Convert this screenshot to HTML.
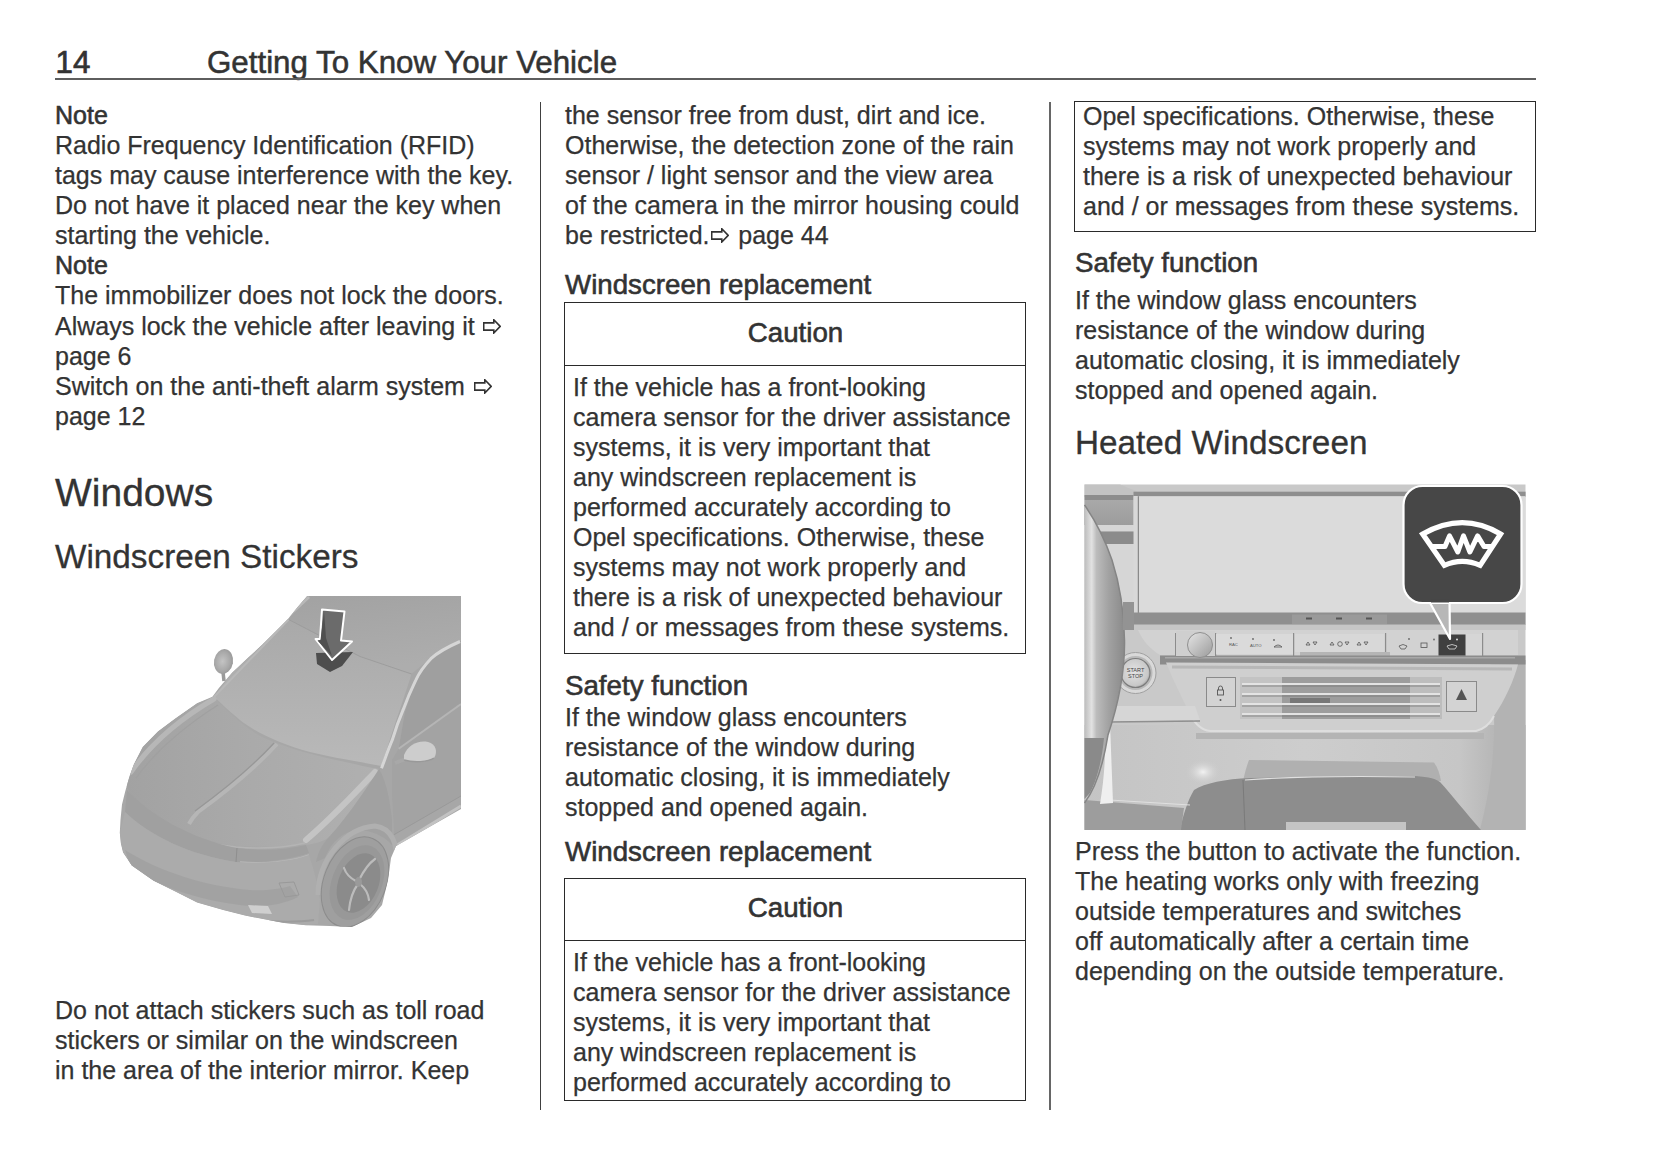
<!DOCTYPE html>
<html><head><meta charset="utf-8">
<style>
html,body{margin:0;padding:0;background:#fff;}
body{width:1653px;height:1165px;position:relative;overflow:hidden;font-family:"Liberation Sans",sans-serif;color:#333;}
.a{position:absolute;white-space:nowrap;}
.p{position:absolute;white-space:nowrap;font-size:25px;line-height:30.08px;-webkit-text-stroke:0.25px #333;}
.m{-webkit-text-stroke:0.6px #333;}
.h3{position:absolute;white-space:nowrap;font-size:27.7px;line-height:32px;-webkit-text-stroke:0.6px #333;}
.box{position:absolute;border:1.4px solid #2a2a2a;box-sizing:border-box;}
.sep{position:absolute;height:1.4px;background:#2a2a2a;}
.vd{position:absolute;width:1.4px;background:#555;}
.ar{display:inline-block;width:18px;height:15px;vertical-align:1px;margin:0 2px 0 1.8px;}
</style></head><body>

<!-- header -->
<div class="a" id="pn" style="left:55.5px;top:45px;font-size:31.3px;line-height:36px;-webkit-text-stroke:0.7px #333;">14</div>
<div class="a" id="ht" style="left:207px;top:45px;font-size:31.3px;line-height:36px;-webkit-text-stroke:0.55px #333;">Getting To Know Your Vehicle</div>
<div class="a" style="left:55px;top:78.1px;width:1481px;height:1.6px;background:#5e5e5e;"></div>

<!-- column dividers -->
<div class="vd" style="left:539.8px;top:102px;height:1008px;background:#404040;width:1.35px;"></div>
<div class="vd" style="left:1049.3px;top:102px;height:1008px;background:#666;width:1.8px;"></div>

<!-- left column -->
<div class="p" style="left:55px;top:99.9px;"><span class="m">Note</span><br>Radio Frequency Identification (RFID)<br>tags may cause interference with the key.<br>Do not have it placed near the key when<br>starting the vehicle.<br><span class="m">Note</span><br>The immobilizer does not lock the doors.<br><span style="position:relative;top:1px;">Always lock the vehicle after leaving it <svg class="ar" viewBox="0 0 18 15"><path d="M0.7 3.9H10.8V0.8L17.2 7.4L10.8 14V11.1H0.7Z" fill="none" stroke="#333" stroke-width="1.6" stroke-linejoin="miter"/></svg></span><br>page 6<br>Switch on the anti-theft alarm system <svg class="ar" viewBox="0 0 18 15"><path d="M0.7 3.9H10.8V0.8L17.2 7.4L10.8 14V11.1H0.7Z" fill="none" stroke="#333" stroke-width="1.6"/></svg><br>page 12</div>

<div class="a" style="left:55px;top:470.6px;font-size:39px;line-height:44px;-webkit-text-stroke:0.3px #333;">Windows</div>
<div class="a" style="left:55px;top:538px;font-size:33.3px;line-height:38px;-webkit-text-stroke:0.3px #333;">Windscreen Stickers</div>

<svg class="a" style="left:110px;top:590px;" width="355" height="345" viewBox="110 590 355 345">
<defs>
<linearGradient id="cg1" x1="0" y1="0" x2="0" y2="1"><stop offset="0" stop-color="#a9a9a9"/><stop offset="1" stop-color="#b9b9b9"/></linearGradient>
<linearGradient id="cg2" x1="0" y1="0" x2="1" y2="0"><stop offset="0" stop-color="#a2a2a2"/><stop offset="0.5" stop-color="#aaaaaa"/><stop offset="1" stop-color="#b0b0b0"/></linearGradient>
<linearGradient id="cg3" x1="0" y1="0" x2="1" y2="1"><stop offset="0" stop-color="#b0b0b0"/><stop offset="1" stop-color="#9a9a9a"/></linearGradient>
<linearGradient id="croof" x1="0" y1="0" x2="0.3" y2="1"><stop offset="0" stop-color="#a2a2a2"/><stop offset="1" stop-color="#adadad"/></linearGradient>
<clipPath id="cs"><path d="M307.1,596 L461,596 L461,809 L396,846 L391,858 L388,880 L382,905 L371,918 L352,927 L330,926 L306,925.3 L284.2,923.1 L245,915.5 L223.2,910 L197.1,902.4 L175.3,891.5 L153.6,880.7 L131.8,865.4 L123.1,852.4 L120.9,843.6 L119.8,832.8 L120.5,819.7 L122,804.4 L125.2,791.4 L129.6,776.1 L134,764 L142.7,747 L157.9,731.6 L175.3,718.5 L197.1,703.2 L212.4,696.7 L218.9,688 L232,672.8 L247.2,658.6 L262.4,644.4 L275.5,631.4 L288.6,618.3 L297.3,607.4 Z"/></clipPath>
<radialGradient id="cm1" cx="0.45" cy="0.5" r="0.65"><stop offset="0" stop-color="#c4c4c4"/><stop offset="0.6" stop-color="#a8a8a8"/><stop offset="1" stop-color="#8e8e8e"/></radialGradient>
</defs>
<!-- body silhouette -->
<path d="M307.1,596 L461,596 L461,809 L396,846 L391,858 L388,880 L382,905 L371,918 L352,927 L330,926 L306,925.3 L284.2,923.1 L245,915.5 L223.2,910 L197.1,902.4 L175.3,891.5 L153.6,880.7 L131.8,865.4 L123.1,852.4 L120.9,843.6 L119.8,832.8 L120.5,819.7 L122,804.4 L125.2,791.4 L129.6,776.1 L134,764 L142.7,747 L157.9,731.6 L175.3,718.5 L197.1,703.2 L212.4,696.7 L218.9,688 L232,672.8 L247.2,658.6 L262.4,644.4 L275.5,631.4 L288.6,618.3 L297.3,607.4 Z" fill="#a7a7a7"/>
<g clip-path="url(#cs)">
<!-- roof -->
<path d="M307.1,596 L461,596 L461,641 L432,657 L411.5,673.7 L360,656.5 L288.6,619 L297.3,607.4 Z" fill="url(#croof)"/>
<!-- roof rail highlight -->
<path d="M309,597 L282,622" stroke="#b8b8b8" stroke-width="3" fill="none"/>
<!-- windshield -->
<path d="M288.6,619.5 L360,656.5 L411.5,674 C405,695 396,720 381.5,766 C350,760 330,757 310,752 C280,744 255,732 240,720 C228,710 220,702 214,697 L232,673 L247.2,658.6 L262.4,644.4 L275.5,631.4 Z" fill="url(#cg1)"/>
<path d="M288.6,619.5 L360,656.5 L411.5,674" stroke="#999" stroke-width="0.8" fill="none"/>
<!-- left A-pillar edge -->
<path d="M214,697 L288.6,619.5" stroke="#b8b8b8" stroke-width="2" fill="none"/>
<!-- side window area right of A pillar -->
<path d="M461,641 L432,657 C420,670 412,690 405,712 L398.7,748.8 L461,704 Z" fill="#9f9f9f"/>
<path d="M461,704 L398.7,748.8 L392,760 L392,795 L394.4,834.7 L461,796 Z" fill="#a3a3a3"/>
<path d="M398.7,748.8 L461,704" stroke="#b5b5b5" stroke-width="2" fill="none"/>
<!-- A-pillar highlight -->
<path d="M460,641.5 C445,648 436,654 430.9,658.7 C424,666 419,673 415.8,680.1 C410,692 406,702 403,710.2 C398,722 395,731 392.2,740.2 C388,750 385,759 381.5,768.2" stroke="#d6d6d6" stroke-width="3" fill="none"/>
<!-- sill highlight -->
<path d="M396.5,845.5 L461,806" stroke="#c2c2c2" stroke-width="3" fill="none"/>
<path d="M394,834.7 L461,796" stroke="#999" stroke-width="1" fill="none"/>
<!-- hood -->
<path d="M214,697 C228,712 245,728 262,737 C285,748 320,757 350,763 C362,766 372,768 379,769 C372,790 352,815 336,832 C326,842 312,845 300,845 C270,847 240,848 220,843 C190,836 160,820 140,805 C132,798 128,790 126,785 L129.6,776.1 L134,764 L142.7,747 L157.9,731.6 L175.3,718.5 L197.1,703.2 Z" fill="url(#cg2)"/>
<!-- hood left edge highlight -->
<path d="M131,772 C150,745 178,720 214,699" stroke="#b7b7b7" stroke-width="5" fill="none" stroke-linecap="round"/>
<path d="M136,778 C155,752 182,728 218,705" stroke="#a0a0a0" stroke-width="1.2" fill="none"/>
<!-- hood crease -->
<path d="M277,744 C255,768 228,790 198,812 C194,816 191,820 189,824" stroke="#b6b6b6" stroke-width="4" fill="none"/>
<path d="M274,743 C252,767 225,789 195,811" stroke="#979797" stroke-width="1.2" fill="none"/>
<!-- right fender highlight -->
<path d="M375,772 C355,793 332,818 306,840" stroke="#c4c4c4" stroke-width="6" fill="none" stroke-linecap="round"/>
<!-- fender/side front -->
<path d="M379,769 C386,780 390,800 392,820 L392,845 C386,838 376,832 362,830 C345,830 332,840 325,858 L316,862 C318,852 322,845 328,838 C345,820 362,795 379,769 Z" fill="#a1a1a1"/>
<!-- hood lip -->
<path d="M132,815 C160,832 200,843 236,847 C262,849 285,848 305,843" stroke="#b4b4b4" stroke-width="1.5" fill="none"/>
<!-- headlight band -->
<path d="M127,790 C150,815 190,838 236,848 C262,851 285,850 306,845 L309,853 C290,860 262,863 236,862 C190,855 150,836 125,812 Z" fill="#a0a0a0"/>
<path d="M237,848 L236,862" stroke="#8e8e8e" stroke-width="1"/>
<path d="M240,862 C262,864 290,862 309,855" stroke="#b8b8b8" stroke-width="1.5" fill="none"/>
<!-- bumper -->
<path d="M125,812 C150,836 190,855 236,862 C262,864 290,862 309,855 C314,870 318,885 320,900 L318,924 L306,925.3 L284.2,923.1 L245,915.5 L223.2,910 L197.1,902.4 L175.3,891.5 L153.6,880.7 L131.8,865.4 L123.1,852.4 L120.9,843.6 L119.8,832.8 Z" fill="#ababab"/>
<!-- lower grille -->
<path d="M125,850 C160,872 205,886 250,890 C265,891 280,889 290,886 L298,897 C285,904 265,907 250,906 C205,902 160,888 131,868 Z" fill="#a2a2a2"/>
<path d="M132,882 C170,902 215,915 253,920 C275,922 300,922 314,920" stroke="#9c9c9c" stroke-width="2" fill="none"/>
<!-- lower intake outline -->
<path d="M279,883 L294,882 L299,895 L285,897 Z" fill="none" stroke="#999" stroke-width="1"/>
<!-- fog lamp highlight -->
<path d="M248,905 L268,906 L272,914 L252,913 Z" fill="#cfcfcf"/>
<!-- wheel arch & tire -->
<path d="M318,895 C318,860 345,828 375,826 C392,828 398,845 396,862" stroke="#b0b0b0" stroke-width="5" fill="none"/>
<ellipse cx="355" cy="882" rx="31" ry="47" transform="rotate(22 355 882)" fill="#9f9f9f" stroke="#8c8c8c" stroke-width="1"/>
<ellipse cx="357" cy="882.5" rx="25" ry="39" transform="rotate(22 357 882.5)" fill="#989898"/>
<ellipse cx="358.5" cy="883" rx="20" ry="31" transform="rotate(22 358.5 883)" fill="#8b8b8b"/>
<g stroke="#bcbcbc" stroke-width="2.2" fill="none" stroke-linecap="round">
<path d="M359,880 C363,872 368,864 375,859"/><path d="M358,884 C352,892 350,900 349,910"/><path d="M360,884 C365,888 368,892 369,900"/><path d="M356,881 C350,878 346,874 344,868"/>
</g>
<ellipse cx="358.5" cy="882" rx="3.5" ry="5" fill="#9a9a9a"/>
</g>
<!-- left mirror -->
<path d="M223,672 L224,681" stroke="#9a9a9a" stroke-width="3.5"/>
<ellipse cx="223.5" cy="661.5" rx="9.5" ry="12.5" transform="rotate(10 223.5 661.5)" fill="url(#cm1)"/>
<!-- right mirror -->
<path d="M395,763 L408,758" stroke="#a8a8a8" stroke-width="4"/>
<path d="M404,755 C408,745 418,740 428,742 C436,744 438,752 434,758 C428,762 414,763 404,760 Z" fill="#cdcdcd"/>
<path d="M404,760 C414,763 428,762 434,758" stroke="#999" stroke-width="1.5" fill="none"/>
<!-- sticker arrow shadow -->
<path d="M316,653 L353,652 L342,666 L330,672 L317,664 Z" fill="#4d4d4d"/>
<!-- arrow -->
<path d="M322,609.5 L344.5,611.5 L341,640.5 L352,641.5 L332,660 L315.5,639 L320,639 Z" fill="#6b6b6b" stroke="#fff" stroke-width="2" stroke-linejoin="round"/>
<path d="M324,611.5 L326,638 L320.5,640 Z M326,638 L332,656 L318,641 Z" fill="#505050"/>
</svg>


<div class="p" style="left:55px;top:996px;line-height:29.9px;">Do not attach stickers such as toll road<br>stickers or similar on the windscreen<br>in the area of the interior mirror. Keep</div>

<!-- middle column -->
<div class="p" style="left:565px;top:99.9px;">the sensor free from dust, dirt and ice.<br>Otherwise, the detection zone of the rain<br>sensor / light sensor and the view area<br>of the camera in the mirror housing could<br>be restricted.<svg class="ar" viewBox="0 0 18 15"><path d="M0.7 3.9H10.8V0.8L17.2 7.4L10.8 14V11.1H0.7Z" fill="none" stroke="#333" stroke-width="1.6"/></svg> page 44</div>

<div class="h3" style="left:565px;top:268.5px;">Windscreen replacement</div>
<div class="box" style="left:564px;top:302px;width:462.2px;height:352px;"></div>
<div class="sep" style="left:564px;top:364.5px;width:462.2px;"></div>
<div class="h3" style="left:564px;top:316.9px;width:463px;text-align:center;">Caution</div>
<div class="p" style="left:573px;top:371.9px;line-height:30.02px;">If the vehicle has a front-looking<br>camera sensor for the driver assistance<br>systems, it is very important that<br>any windscreen replacement is<br>performed accurately according to<br>Opel specifications. Otherwise, these<br>systems may not work properly and<br>there is a risk of unexpected behaviour<br>and / or messages from these systems.</div>

<div class="h3" style="left:565px;top:669.5px;">Safety function</div>
<div class="p" style="left:565px;top:701.6px;line-height:30.03px;">If the window glass encounters<br>resistance of the window during<br>automatic closing, it is immediately<br>stopped and opened again.</div>

<div class="h3" style="left:565px;top:836px;">Windscreen replacement</div>
<div class="box" style="left:564px;top:877.5px;width:462.2px;height:223.5px;"></div>
<div class="sep" style="left:564px;top:940px;width:462.2px;"></div>
<div class="h3" style="left:564px;top:892px;width:463px;text-align:center;">Caution</div>
<div class="p" style="left:573px;top:947.9px;line-height:29.97px;">If the vehicle has a front-looking<br>camera sensor for the driver assistance<br>systems, it is very important that<br>any windscreen replacement is<br>performed accurately according to</div>

<!-- right column -->
<div class="box" style="left:1074px;top:101px;width:462px;height:131px;"></div>
<div class="p" style="left:1083px;top:100.6px;line-height:30.23px;">Opel specifications. Otherwise, these<br>systems may not work properly and<br>there is a risk of unexpected behaviour<br>and / or messages from these systems.</div>

<div class="h3" style="left:1075px;top:246.8px;">Safety function</div>
<div class="p" style="left:1075px;top:286.3px;line-height:29.97px;">If the window glass encounters<br>resistance of the window during<br>automatic closing, it is immediately<br>stopped and opened again.</div>

<div class="a" style="left:1075px;top:423.6px;font-size:33.3px;line-height:38px;-webkit-text-stroke:0.3px #333;">Heated Windscreen</div>

<svg class="a" style="left:1084px;top:484px;" width="442" height="346" viewBox="1084 484 442 346">
<defs>
<linearGradient id="dw" x1="0" y1="0" x2="1" y2="0"><stop offset="0" stop-color="#bdbdbd"/><stop offset="0.18" stop-color="#e2e2e2"/><stop offset="0.3" stop-color="#bcbcbc"/><stop offset="0.6" stop-color="#a2a2a2"/><stop offset="1" stop-color="#8a8a8a"/></linearGradient>
<radialGradient id="dblob"><stop offset="0" stop-color="#f2f2f2"/><stop offset="1" stop-color="#cacaca" stop-opacity="0"/></radialGradient>
<linearGradient id="dlow" x1="0" y1="0" x2="1" y2="0"><stop offset="0" stop-color="#c4c4c4"/><stop offset="0.5" stop-color="#cdcdcd"/><stop offset="0.85" stop-color="#c6c6c6"/><stop offset="1" stop-color="#a9a9a9"/></linearGradient>
<linearGradient id="dkn" x1="0" y1="0" x2="1" y2="1"><stop offset="0" stop-color="#e6e6e6"/><stop offset="1" stop-color="#9a9a9a"/></linearGradient>
<linearGradient id="dvent" x1="0" y1="0" x2="0" y2="1"><stop offset="0" stop-color="#d9d9d9"/><stop offset="1" stop-color="#c9c9c9"/></linearGradient>
<linearGradient id="dmid" x1="0" y1="0" x2="0" y2="1"><stop offset="0" stop-color="#a9a9a9"/><stop offset="1" stop-color="#9c9c9c"/></linearGradient>
<radialGradient id="dss" cx="0.45" cy="0.45" r="0.6"><stop offset="0" stop-color="#e4e4e4"/><stop offset="0.8" stop-color="#c8c8c8"/><stop offset="1" stop-color="#9a9a9a"/></radialGradient>
</defs>
<!-- base background of dash -->
<rect x="1084.5" y="484.5" width="441" height="345" fill="#c9c9c9"/>
<!-- lower panel -->
<rect x="1084.5" y="725" width="441" height="105" fill="url(#dlow)"/>
<!-- right side darker -->
<path d="M1490,660 L1525.5,660 L1525.5,830 L1480,830 C1490,790 1500,740 1490,660 Z" fill="#b3b3b3"/>
<!-- top-left frame -->
<path d="M1084.5,484.5 L1120,484.5 L1137.7,491.7 L1525.5,491.7 L1525.5,497 L1084.5,497 Z" fill="#c3c3c3"/>
<rect x="1084.5" y="495" width="49" height="5" fill="#8d8d8d"/>
<rect x="1084.5" y="500" width="49" height="25" fill="url(#dmid)"/>
<rect x="1097" y="525" width="37" height="6.5" fill="#d6d6d6"/>
<rect x="1097" y="531.5" width="37" height="12.5" fill="#8b8b8b"/>
<rect x="1105" y="544" width="29" height="62" fill="#d6d6d6"/>
<!-- screen frame -->
<rect x="1133.5" y="491.7" width="392" height="5" fill="#8e8e8e"/>
<rect x="1133.5" y="496" width="5" height="118" fill="#d8d8d8"/>
<rect x="1138" y="496.2" width="387.5" height="117" fill="#dbdbdb"/>
<rect x="1137.8" y="496.2" width="1" height="117" fill="#777"/>
<!-- band below screen -->
<rect x="1120" y="612.5" width="405.5" height="12.5" fill="#8f8f8f"/>
<rect x="1292" y="614.5" width="95" height="9.5" fill="#9a9a9a"/>
<g fill="#555"><rect x="1306" y="617.5" width="6" height="2"/><rect x="1336" y="617.5" width="6" height="2"/><rect x="1366" y="617.5" width="6" height="2"/></g>
<rect x="1125" y="624.5" width="400.5" height="5.5" fill="#c6c6c6"/>
<!-- button row -->
<path d="M1138,630 L1518,630 L1518,655 L1160,655 C1150,649 1143,641 1138,630 Z" fill="#d2d2d2"/>
<rect x="1175" y="633" width="1" height="23" fill="#8c8c8c"/>
<rect x="1215" y="633" width="1.2" height="23" fill="#8c8c8c"/>
<rect x="1293" y="633" width="1.2" height="23" fill="#8c8c8c"/>
<rect x="1385" y="633" width="1.2" height="23" fill="#8c8c8c"/>
<rect x="1482" y="633" width="1.2" height="23" fill="#8c8c8c"/>
<rect x="1216" y="634" width="77" height="20" fill="#dadada"/>
<rect x="1295" y="634" width="89" height="18" fill="#d8d8d8"/>
<rect x="1300" y="652" width="90" height="6" fill="#b5b5b5"/>
<rect x="1438.5" y="634.5" width="27" height="21.3" fill="#404040"/>
<rect x="1466" y="634" width="16" height="22" fill="#d6d6d6"/>
<!-- tiny button glyphs -->
<g fill="#555" font-family="Liberation Sans" font-size="4.2">
<text x="1229" y="646">RAC</text><text x="1250" y="647">AUTO</text>
</g>
<g fill="#666"><circle cx="1231" cy="638" r="0.9"/><circle cx="1253" cy="639" r="0.9"/><circle cx="1274" cy="640" r="0.9"/><circle cx="1409" cy="639" r="0.9"/><circle cx="1434" cy="639.5" r="0.9"/></g>
<g stroke="#555" stroke-width="0.8" fill="none">
<path d="M1274,647 q4,-4 8,0 z"/><path d="M1306,645 l2,-3 l2,3 z M1313,642 l2,3 l2,-3z"/><path d="M1330,645 l2,-3 l2,3 z M1345,642 l2,3 l2,-3z"/><circle cx="1340" cy="644" r="2.3"/><path d="M1357,645 l2,-3 l2,3 z M1364,642 l2,3 l2,-3z"/>
<path d="M1399,646 q4,-3 8,0 l-2,3 h-4z"/><rect x="1421" y="643" width="6" height="4.5"/>
</g>
<path d="M1447,646 q5,-3 10,0 l-2,3 h-6z" stroke="#ddd" stroke-width="0.8" fill="none"/>
<circle cx="1457" cy="639.5" r="1" fill="#ddd"/>
<!-- dark bar under buttons -->
<rect x="1160" y="655.5" width="365.5" height="9" fill="#8c8c8c"/>
<rect x="1165" y="657" width="350" height="1.5" fill="#a8a8a8"/>
<!-- knob -->
<rect x="1176" y="631" width="39" height="25" fill="#cfcfcf"/>
<circle cx="1200" cy="645" r="12.5" fill="url(#dkn)"/>
<circle cx="1200" cy="645" r="12.5" fill="none" stroke="#8f8f8f" stroke-width="1"/>
<!-- start stop -->
<circle cx="1135.5" cy="673" r="20.5" fill="#d9d9d9" stroke="#a0a0a0" stroke-width="1"/>
<circle cx="1135.5" cy="673" r="17" fill="#b9b9b9"/>
<circle cx="1135.5" cy="673" r="14.5" fill="url(#dss)" stroke="#7c7c7c" stroke-width="1.2"/>
<text x="1135.5" y="671.5" font-family="Liberation Sans" font-size="5.5" text-anchor="middle" fill="#444">START</text>
<text x="1135.5" y="678" font-family="Liberation Sans" font-size="5.5" text-anchor="middle" fill="#444">STOP</text>
<!-- vent panel -->
<path d="M1166,662.5 L1518,664.5 C1514,680 1505,700 1494,716 C1490,724 1484,729 1476,731 L1210,731 C1200,730 1194,722 1190,714 C1182,698 1173,680 1166,662.5 Z" fill="#cfcfcf"/>
<path d="M1190,714 C1194,722 1200,730 1210,731 L1476,731 C1484,729 1490,724 1494,716" stroke="#dedede" stroke-width="2" fill="none"/>
<path d="M1196,736 L1484,736" stroke="#b4b4b4" stroke-width="6"/>
<path d="M1172,667 L1512,669" stroke="#b7b7b7" stroke-width="3"/>
<!-- vent -->
<rect x="1240" y="677" width="202" height="42" fill="#9d9d9d"/>
<rect x="1240" y="677" width="42" height="42" fill="#c3c3c3"/>
<rect x="1410" y="677" width="32" height="42" fill="#bdbdbd"/>
<g stroke="#e3e3e3" stroke-width="2.2">
<path d="M1242,684 L1440,684"/><path d="M1242,694 L1440,694"/><path d="M1242,704 L1440,704"/><path d="M1242,714 L1440,714"/>
</g>
<g stroke="#777" stroke-width="0.8"><path d="M1242,686 L1440,686"/><path d="M1242,696 L1440,696"/><path d="M1242,706 L1440,706"/><path d="M1242,716 L1440,716"/></g>
<rect x="1290" y="698" width="40" height="5" fill="#777"/>
<!-- lock button -->
<rect x="1206.5" y="677.5" width="29" height="29" fill="#d3d3d3" stroke="#8a8a8a" stroke-width="1"/>
<rect x="1217.5" y="690" width="6" height="5" fill="none" stroke="#555" stroke-width="0.9"/>
<path d="M1218.5,690 v-2 a2,2 0 0 1 4,0 v2" fill="none" stroke="#555" stroke-width="0.9"/>
<circle cx="1220.5" cy="700" r="1" fill="#555"/>
<!-- hazard -->
<rect x="1446.5" y="681.5" width="30" height="30" fill="#d3d3d3" stroke="#8a8a8a" stroke-width="1"/>
<path d="M1461.5,689 L1467,700 L1456,700 Z" fill="#555"/>
<!-- lower console tray -->
<path d="M1249,760 L1434,762.5 C1438,768 1440,775 1441,781 L1243,781 C1245,772 1247,765 1249,760 Z" fill="#b0b0b0"/>
<!-- lower console dark -->
<path d="M1194,790 C1205,783 1225,779 1250,778 L1415,776 C1430,777 1436,779 1440,782 C1452,795 1465,812 1481,830 L1180,830 C1183,815 1188,800 1194,790 Z" fill="#8d8d8d"/>
<path d="M1243,780 L1245,830" stroke="#7a7a7a" stroke-width="1"/>
<path d="M1245,780 C1300,776 1360,776 1415,777" stroke="#e0e0e0" stroke-width="1.2" fill="none"/>
<rect x="1286" y="822" width="120" height="8" fill="#c4c4c4"/>
<!-- left lower dark band -->
<path d="M1084.5,800 L1184,808 L1181,830 L1084.5,830 Z" fill="#9d9d9d"/>
<path d="M1110,800 L1190,805" stroke="#e0e0e0" stroke-width="1"/>
<!-- light blob -->
<ellipse cx="1203" cy="772" rx="18" ry="13" fill="url(#dblob)"/>
<path d="M1109,706 L1195,706 L1200,720 L1109,722 Z" fill="#d6d6d6"/>
<path d="M1109,722 L1200,721" stroke="#8f8f8f" stroke-width="1.5"/>
<!-- steering wheel rim -->
<path d="M1105,726 L1110,723 L1113,803 L1100,804 C1104,780 1106,755 1105,726 Z" fill="#efefef"/>
<path d="M1084.5,505 C1095,520 1105,540 1112,560 C1120,585 1124,610 1124.5,640 C1125,670 1118,705 1108,735 C1104,760 1098,785 1084.5,803 Z" fill="url(#dw)"/>
<path d="M1084.5,505 C1095,520 1105,540 1112,560 C1120,585 1124,610 1124.5,640 C1125,670 1118,705 1108,735 C1104,760 1098,785 1084.5,803" stroke="#858585" stroke-width="1.5" fill="none"/>
<!-- inner dark part of wheel lower -->
<path d="M1084.5,738 L1104,738 C1102,760 1097,780 1090,793 L1084.5,799 Z" fill="#8a8a8a"/>
<!-- small bracket -->
<rect x="1123" y="602" width="11" height="28" fill="#939393"/>
<!-- callout pointer -->
<path d="M1429,601 L1449.5,601 L1450,639 Z" fill="#b7b7b7" stroke="#fff" stroke-width="2.2" stroke-linejoin="round"/>
<!-- callout -->
<rect x="1403.5" y="486" width="118" height="117" rx="19" ry="19" fill="#474747" stroke="#fff" stroke-width="2.2"/>
<path d="M1431,601 L1449,601" stroke="#474747" stroke-width="3"/>
<!-- heated windscreen icon -->
<path d="M1422.7,534 Q1462.7,511.2 1500.6,534 L1480.2,565.3 Q1462.3,557.3 1444.3,565.3 Z" fill="none" stroke="#fff" stroke-width="5.2" stroke-linejoin="miter"/>
<path d="M1431.3,546.5 L1445,546.5 L1449.5,535.9 L1457.8,552 L1463.5,535.9 L1469.9,552 L1477.6,535.9 L1484,546.5 L1492.5,546.5" fill="none" stroke="#fff" stroke-width="5" stroke-linejoin="round"/>
</svg>


<div class="p" style="left:1075px;top:836.6px;line-height:29.98px;">Press the button to activate the function.<br>The heating works only with freezing<br>outside temperatures and switches<br>off automatically after a certain time<br>depending on the outside temperature.</div>

</body></html>
